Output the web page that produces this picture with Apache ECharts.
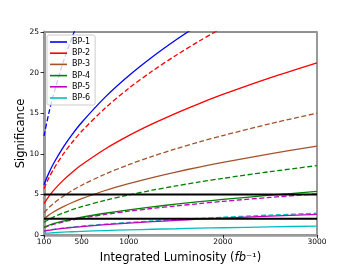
<!DOCTYPE html>
<html>
<head>
<meta charset="utf-8">
<script src="https://cdn.jsdelivr.net/npm/echarts@6/dist/echarts.min.js"></script>
<style>html,body{margin:0;padding:0;background:#fff}#c{width:352px;height:264px}</style>
</head>
<body>
<div id="c"></div>
<script>
const lum = [100,150,200,300,400,500,750,1000,1250,1500,1750,2000,2500,3000];
const xTicks = [100,500,1000,2000,3000];
const legendNames = ['BP-1','BP-2','BP-3','BP-4','BP-5','BP-6'];
const colors = ['#0000ff','#ff0000','#a5522a','#008000','#bf00bf','#00bfbf'];
const bp1Solid  = [6.2,7.59,8.77,10.74,12.4,13.86,16.98,19.61,21.92,24.01,25.94,null,null,null];
const bp1Dashed = [12.2,14.94,17.25,21.13,24.4,27.28,null,null,null,null,null,null,null,null];
const bp2Solid  = [3.87,4.74,5.47,6.7,7.74,8.65,10.6,12.24,13.68,14.99,16.19,17.31,19.35,21.2];
const bp2Dashed = [5.71,6.99,8.08,9.89,11.42,12.77,15.64,18.06,20.19,22.11,23.89,25.54,null,null];
const bp3Solid  = [2.0,2.45,2.83,3.46,4.0,4.47,5.48,6.32,7.07,7.75,8.37,8.94,10.0,10.95];
const bp3Dashed = [2.74,3.36,3.87,4.75,5.48,6.13,7.5,8.66,9.69,10.61,11.46,12.25,13.7,15.0];
const bp4Solid  = [0.98,1.2,1.39,1.7,1.96,2.19,2.68,3.1,3.46,3.8,4.1,4.38,4.9,5.37];
const bp4Dashed = [1.56,1.91,2.21,2.7,3.12,3.49,4.27,4.93,5.52,6.04,6.53,6.98,7.8,8.54];
const bp5Solid  = [0.47,0.57,0.66,0.81,0.93,1.04,1.27,1.47,1.64,1.8,1.95,2.08,2.33,2.55];
const bp5Dashed = [0.93,1.13,1.31,1.6,1.85,2.07,2.53,2.93,3.27,3.58,3.87,4.14,4.63,5.07];
const bp6Solid  = [0.2,0.24,0.28,0.35,0.4,0.45,0.55,0.63,0.71,0.77,0.84,0.89,1.0,1.1];
const bp6Dashed = [0.49,0.6,0.69,0.85,0.98,1.1,1.34,1.55,1.73,1.9,2.05,2.19,2.45,2.68];
const refLevels = [5, 2];

const solids = [bp1Solid,bp2Solid,bp3Solid,bp4Solid,bp5Solid,bp6Solid];
const dashes = [bp1Dashed,bp2Dashed,bp3Dashed,bp4Dashed,bp5Dashed,bp6Dashed];
function pairs(vals){ const out=[]; vals.forEach((v,i)=>{ if(v!==null) out.push([lum[i],v]); }); return out; }

const FONT = 'DejaVu Sans';
const series = [];
solids.forEach((s,i)=>{
  series.push({name: legendNames[i], type:'line', data: pairs(s), symbol:'none', smooth:0.3,
    lineStyle:{color:colors[i], width:1.3}, itemStyle:{color:colors[i]}, z:3});
});
dashes.forEach((s,i)=>{
  series.push({name: '_'+legendNames[i], type:'line', data: pairs(s), symbol:'none', smooth:0.3,
    lineStyle:{color:colors[i], width:1.3, type:[5,2.5]}, itemStyle:{color:colors[i]}, z:2});
});
refLevels.forEach((r,i)=>{
  series.push({name:'_ref'+i, type:'line', data:[[lum[0],r],[lum[lum.length-1],r]], symbol:'none',
    lineStyle:{color:'#000', width:2}, z:4, silent:true});
});

const chart = echarts.init(document.getElementById('c'), null, {renderer:'canvas'});
chart.setOption({
  animation:false,
  backgroundColor:'#fff',
  textStyle:{fontFamily:FONT},
  grid:{left:44, right:35, top:32, bottom:29, show:true, borderColor:'#222', borderWidth:1,
    containLabel:false, outerBoundsMode:'none'},
  legend:{data:legendNames.map(n=>({name:n, icon:'rect'})), orient:'vertical', left:47, top:35,
    itemWidth:17, itemHeight:1.6, itemGap:1.2, padding:[2,5,2,3],
    backgroundColor:'rgba(255,255,255,0.8)', borderColor:'#ccc', borderWidth:1, borderRadius:2,
    textStyle:{fontFamily:FONT, fontSize:8, color:'#000', lineHeight:10}},
  xAxis:{type:'value', min:100, max:3000,
    name:'Integrated Luminosity ({it|fb}⁻¹)', nameLocation:'middle', nameGap:17, nameMoveOverlap:false,
    nameTextStyle:{fontFamily:FONT, fontSize:11.5, color:'#000', rich:{it:{fontFamily:FONT, fontStyle:'italic', fontSize:11.5}}},
    axisLine:{lineStyle:{color:'#999', width:2.5}},
    axisTick:{customValues:xTicks, length:3.5, lineStyle:{color:'#000', width:0.8}},
    axisLabel:{customValues:xTicks, formatter:v=>String(v), fontFamily:FONT, fontSize:7.5, color:'#000', margin:3},
    splitLine:{show:false}},
  yAxis:[{type:'value', min:0, max:25, interval:5,
    name:'Significance', nameLocation:'middle', nameGap:17, nameRotate:90, nameMoveOverlap:false,
    nameTextStyle:{fontFamily:FONT, fontSize:11.5, color:'#000'},
    axisLine:{show:true, lineStyle:{color:'#999', width:3}},
    axisTick:{show:true, length:3.5, lineStyle:{color:'#000', width:0.8}},
    axisLabel:{fontFamily:FONT, fontSize:7.5, color:'#000', margin:5},
    splitLine:{show:false}},
   {type:'value', min:0, max:25, interval:5, position:'right',
    axisLine:{show:true, lineStyle:{color:'#999', width:2}},
    axisTick:{show:false}, axisLabel:{show:false}, splitLine:{show:false}}],
  series: series
});
</script>
</body>
</html>
